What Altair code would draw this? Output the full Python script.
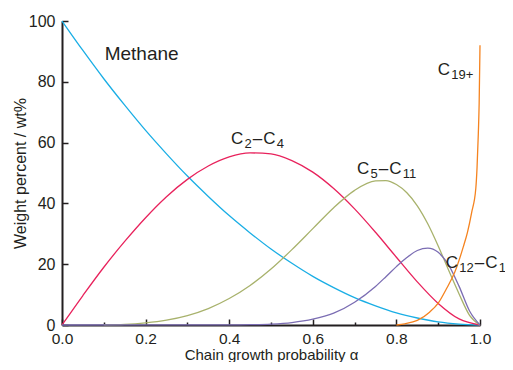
import altair as alt
import pandas as pd

# ---- data ----
alpha_methane = [0.0, 0.05, 0.1, 0.15, 0.2, 0.25, 0.3, 0.35, 0.4, 0.45, 0.5,
                 0.55, 0.6, 0.65, 0.7, 0.75, 0.8, 0.85, 0.9, 0.95, 1.0]
methane = [100.0, 90.3, 81.0, 72.3, 64.0, 56.3, 49.0, 42.3, 36.0, 30.3, 25.0,
           20.3, 16.0, 12.3, 9.0, 6.3, 4.0, 2.3, 1.0, 0.3, 0.0]

alpha_c2c4 = alpha_methane
c2c4 = [0.0, 9.7, 19.0, 27.5, 35.3, 42.2, 47.9, 52.3, 55.3, 56.6, 56.3,
        54.1, 50.3, 44.9, 38.2, 30.5, 22.3, 14.2, 7.1, 2.0, 0.0]

alpha_c5c11 = [0.1, 0.15, 0.2, 0.25, 0.3, 0.35, 0.4, 0.45, 0.5, 0.55, 0.6, 0.65,
               0.7, 0.75, 0.775, 0.8, 0.825, 0.85, 0.875, 0.9, 0.925, 0.95, 0.975, 1.0]
c5c11 = [0.05, 0.2, 0.7, 1.6, 3.1, 5.4, 8.7, 13.0, 18.4, 24.8, 31.7, 38.6,
         44.3, 47.4, 47.5, 46.2, 43.5, 39.2, 33.3, 26.0, 18.0, 10.2, 3.2, 0.0]

alpha_c12c18 = [0.0, 0.4, 0.45, 0.5, 0.55, 0.6, 0.65, 0.7, 0.75, 0.775, 0.8,
                0.825, 0.85, 0.875, 0.9, 0.925, 0.95, 0.975, 1.0]
c12c18 = [0.0, 0.03, 0.11, 0.31, 0.81, 1.9, 3.9, 7.5, 12.7, 15.9, 19.2,
          22.2, 24.5, 25.3, 23.9, 19.7, 12.7, 4.6, 0.0]

alpha_c19 = [0.8, 0.82, 0.85, 0.88, 0.9, 0.92, 0.94, 0.96, 0.97, 0.98, 0.99,
             0.993, 0.996, 0.998, 1.0]
c19 = [0.0, 0.4, 1.5, 4.3, 7.2, 12.0, 17.5, 25.7, 30.5, 37.0, 45.0,
       52.0, 63.0, 73.0, 92.0]

series_names = ["Methane", "C2-C4", "C5-C11", "C12-C18", "C19+"]
series_colors = ["#1aaee5", "#e8225c", "#a8b26c", "#7b6db3", "#f5831f"]

rows = []
for name, xs, ys in [
    ("Methane", alpha_methane, methane),
    ("C2-C4", alpha_c2c4, c2c4),
    ("C5-C11", alpha_c5c11, c5c11),
    ("C12-C18", alpha_c12c18, c12c18),
    ("C19+", alpha_c19, c19),
]:
    for x, y in zip(xs, ys):
        rows.append({"series": name, "alpha": x, "wt": y})
df = pd.DataFrame(rows)

W, H = 418, 304
FONT = "Liberation Sans"
INK = "#231f20"

# ---- annotation labels (text with subscripts) ----
MAIN, SUB = 17, 13
# anchor: (alpha, wt) of the baseline-left point of each label
label_specs = [
    ("C2-C4", (0.4043, 59.4), [("C", 0), ("2", 1), ("–", 0), ("C", 0), ("4", 1)], MAIN, SUB),
    ("C5-C11", (0.7057, 49.6), [("C", 0), ("5", 1), ("–", 0), ("C", 0), ("11", 1)], MAIN, SUB),
    ("C12-C18", (0.918, 18.8), [("C", 0), ("12", 1), ("–", 0), ("C", 0), ("18", 1)], MAIN, SUB),
    ("C19+", (0.899, 82.2), [("C", 0), ("19+", 1)], MAIN, SUB),
]
adv = {"C": 0.722, "–": 0.556, "+": 0.584}
parts = []
for _, (ax, ay), segs, fm, fs in label_specs:
    off = 0.0
    for txt, is_sub in segs:
        size = fs if is_sub else fm
        dy = 4 if is_sub else 0
        parts.append({"t": txt, "alpha": ax + off / W, "wt": ay - dy * 100 / H, "size": size})
        w = sum(adv.get(ch, 0.556) for ch in txt) * size
        off += w + (1.3 if txt == "C" else 1.0)
parts.append({"t": "Methane", "alpha": 0.102, "wt": 87.2, "size": 19})
parts_df = pd.DataFrame(parts)

x_vals = [round(i * 0.1, 1) for i in range(11)]
y_vals = [i * 10 for i in range(11)]

x_axis = alt.Axis(
    values=x_vals,
    labelExpr="round(datum.value*10) % 2 == 0 ? format(datum.value, '.1f') : ''",
    tickSize={"condition": {"test": "round(datum.value*10) % 2 == 0", "value": -6}, "value": -3},
    tickColor=INK, tickWidth=1.5,
    domainColor=INK, domainWidth=2,
    labelFont=FONT, labelFontSize=15.5, labelColor=INK, labelPadding=12,
    title="Chain growth probability α",
    titleFont=FONT, titleFontSize=15, titleFontWeight="normal", titleColor=INK,
    titleBaseline="alphabetic", titleY=34.5,
    grid=False, labelFlush=False,
)
y_axis = alt.Axis(
    values=y_vals,
    labelExpr="datum.value % 20 == 0 ? datum.label : ''",
    tickSize={"condition": {"test": "datum.value % 20 == 0", "value": -6}, "value": -4},
    tickColor=INK, tickWidth=1.5,
    domainColor=INK, domainWidth=2,
    labelFont=FONT, labelFontSize=16, labelColor=INK, labelPadding=13,
    title="Weight percent / wt%",
    titleFont=FONT, titleFontSize=16, titleFontWeight="normal", titleColor=INK,
    titlePadding=0, grid=False, labelFlush=False,
)

lines = alt.Chart(df).mark_line(strokeWidth=1.3, interpolate="monotone").encode(
    x=alt.X("alpha:Q", scale=alt.Scale(domain=[0, 1], nice=False, zero=False), axis=x_axis),
    y=alt.Y("wt:Q", scale=alt.Scale(domain=[0, 100], nice=False), axis=y_axis),
    color=alt.Color("series:N", scale=alt.Scale(domain=series_names, range=series_colors), legend=None),
)

labels = alt.Chart(parts_df).mark_text(
    align="left", baseline="alphabetic", font=FONT, color=INK
).encode(
    x="alpha:Q",
    y="wt:Q",
    text="t:N",
    size=alt.Size("size:Q", scale=None),
)

chart = alt.layer(lines, labels).properties(
    width=W, height=H,
    autosize=alt.AutoSizeParams(type="none"),
    padding={"left": 54, "top": 13, "right": 25, "bottom": 37},
    background="white",
).configure_view(stroke=None)

chart.save("out.html", embed_options={"renderer": "svg", "actions": False})
